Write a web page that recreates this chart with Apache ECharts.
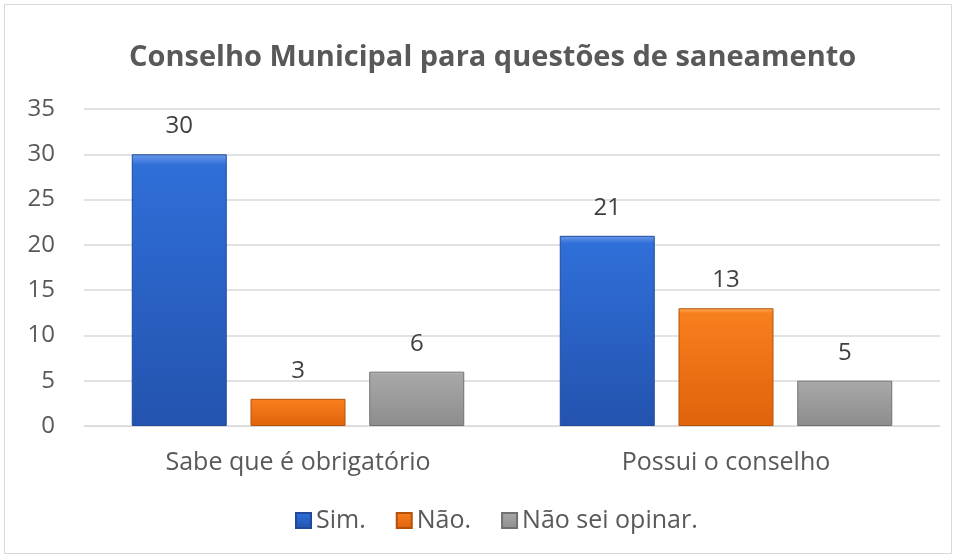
<!DOCTYPE html>
<html>
<head>
<meta charset="utf-8">
<script src="https://cdn.jsdelivr.net/npm/echarts@6/dist/echarts.min.js"></script>
<style>
  html, body { margin: 0; padding: 0; background: #fff; }
  #chart { width: 957px; height: 559px; }
</style>
</head>
<body>
<div id="chart"></div>
<script>
// categories and values
const categories = ['Sabe que é obrigatório', 'Possui o conselho'];
const sim = [30, 21];
const nao = [3, 13];
const naoSei = [6, 5];

const font = '"Open Sans", "Noto Sans", sans-serif';

function bevel(light, mid, dark) {
    return new echarts.graphic.LinearGradient(0, 0, 0, 1, [
        { offset: 0, color: light },
        { offset: 0.04, color: mid },
        { offset: 0.96, color: dark },
        { offset: 1, color: dark }
    ]);
}

function makeSeries(name, data, colors, border) {
    return {
        name: name,
        type: 'bar',
        data: data,
        barWidth: 95,
        barGap: '25%',
        itemStyle: {
            color: bevel(colors[0], colors[1], colors[2]),
            borderColor: border,
            borderWidth: 1
        },
        label: {
            show: true,
            position: 'top',
            distance: 16,
            color: '#404040',
            fontSize: 24,
            fontFamily: font
        }
    };
}

const chart = echarts.init(document.getElementById('chart'));
chart.setOption({
    backgroundColor: '#fff',
    animation: false,
    graphic: [{
        type: 'rect',
        shape: { x: 4.5, y: 4.5, width: 947, height: 549 },
        style: { fill: 'none', stroke: '#d9d9d9', lineWidth: 1 }
    }],
    title: {
        text: 'Conselho Municipal para questões de saneamento',
        left: 124,
        top: 38,
        textStyle: {
            color: '#595959',
            fontSize: 29,
            fontWeight: 'bold',
            fontFamily: font
        }
    },
    legend: {
        bottom: 21,
        left: 290,
        icon: 'rect',
        itemWidth: 15,
        itemHeight: 15,
        itemGap: 30,
        textStyle: { color: '#595959', fontSize: 25, fontFamily: font },
        data: ['Sim.', 'Não.', 'Não sei opinar.']
    },
    grid: { left: 84, right: 17, top: 109, bottom: 133 },
    xAxis: {
        type: 'category',
        data: categories,
        axisTick: { show: false },
        axisLine: { lineStyle: { color: '#d9d9d9' } },
        axisLabel: { color: '#595959', fontSize: 25, fontFamily: font, margin: 24 }
    },
    yAxis: {
        type: 'value',
        min: 0,
        max: 35,
        interval: 5,
        axisLabel: { color: '#595959', fontSize: 24, fontFamily: font, margin: 29 },
        splitLine: { lineStyle: { color: '#d9d9d9', width: 1.5 } }
    },
    series: [
        makeSeries('Sim.', sim, ['#6a9bea', '#2f6fd8', '#2454b0'], '#1f4a9c'),
        makeSeries('Não.', nao, ['#ffb25a', '#f87f1e', '#e0640c'], '#b4520a'),
        makeSeries('Não sei opinar.', naoSei, ['#d8d8d8', '#a8a8a8', '#8e8e8e'], '#707070')
    ]
});
</script>
</body>
</html>
